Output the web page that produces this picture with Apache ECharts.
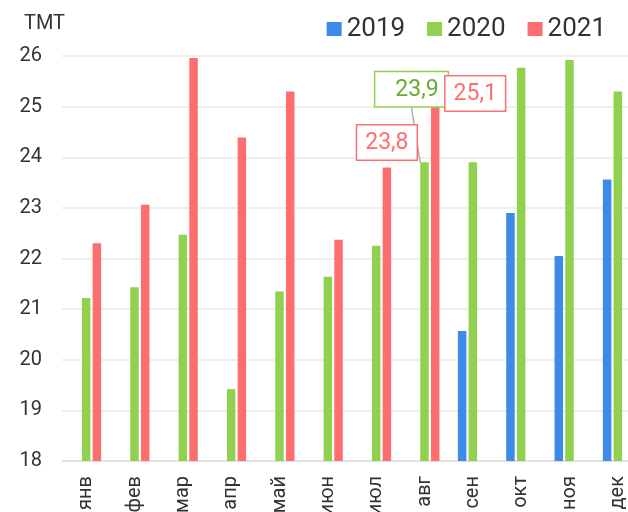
<!DOCTYPE html>
<html>
<head>
<meta charset="utf-8">
<script src="https://cdn.jsdelivr.net/npm/echarts@6/dist/echarts.min.js"></script>
<style>
  html, body { margin: 0; padding: 0; background: #fff; }
  #chart { width: 628px; height: 512px; }
</style>
</head>
<body>
<div id="chart"></div>
<script>
// Monthly values, thousand manat (ТМТ)
const months = ['янв', 'фев', 'мар', 'апр', 'май', 'июн', 'июл', 'авг', 'сен', 'окт', 'ноя', 'дек'];
const years = ['2019', '2020', '2021'];
const values2019 = [null, null, null, null, null, null, null, null, 20.57, 22.9, 22.05, 23.56];
const values2020 = [21.22, 21.43, 22.47, 19.42, 21.35, 21.64, 22.25, 23.9, 23.9, 25.77, 25.92, 25.3];
const values2021 = [22.3, 23.06, 25.96, 24.39, 25.3, 22.37, 23.8, 25.1, null, null, null, null];
const yTicks = { min: 18, max: 26, step: 1 };

const colors = ['#3d8be8', '#92d050', '#ff6e6e'];
const FONT = 'Roboto, "Noto Sans", sans-serif';

const fmt = v => Number(v).toFixed(1).replace('.', ',');

// Boxed value labels for a few highlighted bars
function boxLabel(color, textColor, extra) {
  return Object.assign({
    show: true,
    position: 'top',
    distance: 6,
    formatter: p => fmt(p.value),
    fontFamily: FONT,
    fontSize: 23,
    lineHeight: 23,
    color: textColor,
    backgroundColor: '#fff',
    borderColor: color,
    borderWidth: 1.5,
    padding: [6, 8, 5, 8]
  }, extra || {});
}

function withLabels(values, labelled) {
  return values.map((v, i) => {
    if (v == null) return null;
    if (labelled[i]) return Object.assign({ value: v }, labelled[i]);
    return v;
  });
}

const guide = { show: true, lineStyle: { color: '#b0b0b0', width: 1.5 } };

const data2020 = withLabels(values2020, {
  7: {
    label: boxLabel('#94d050', '#6aaa30', { padding: [6, 9, 5, 20] }),
    labelLine: guide
  }
});
const data2021 = withLabels(values2021, {
  6: { label: boxLabel('#ff6e6e', '#ff6e6e', { distance: 8 }) },
  7: {
    label: boxLabel('#ff6e6e', '#ff6e6e'),
    labelLine: guide
  }
});

// Shifts for the labels that sit away from their bars
const labelShift = {
  '1-7': { dx: -13, dy: -50 },
  '2-7': { dx: 40, dy: 15 }
};
const shiftLayout = p => labelShift[p.seriesIndex + '-' + p.dataIndex] || {};

const barBase = {
  type: 'bar',
  barWidth: 8.5,
  barGap: '26%',
  animation: false,
  labelLayout: shiftLayout
};

const chart = echarts.init(document.getElementById('chart'), null, { renderer: 'canvas' });
chart.setOption({
  color: colors,
  textStyle: { fontFamily: FONT },
  legend: {
    data: years,
    right: 17,
    top: 11,
    icon: 'rect',
    itemWidth: 15,
    itemHeight: 14,
    itemGap: 22,
    textStyle: { fontFamily: FONT, fontSize: 26, color: '#333' }
  },
  grid: { left: 62, right: -14, top: 56, bottom: 51, containLabel: false, outerBoundsMode: 'none' },
  xAxis: {
    type: 'category',
    data: months,
    axisTick: { show: false },
    axisLine: { lineStyle: { color: '#dddddd', width: 1.5 } },
    axisLabel: {
      rotate: 90,
      margin: 15,
      fontFamily: FONT,
      fontSize: 20,
      color: '#333'
    }
  },
  yAxis: {
    type: 'value',
    min: yTicks.min,
    max: yTicks.max,
    interval: yTicks.step,
    name: 'ТМТ',
    nameLocation: 'end',
    nameGap: 22,
    nameTextStyle: { fontFamily: FONT, fontSize: 20, color: '#333', align: 'right', padding: [0, -3, 0, 0] },
    axisLine: { show: false },
    axisTick: { show: false },
    splitLine: { lineStyle: { color: '#efefef', width: 2 } },
    axisLabel: { margin: 20, fontFamily: FONT, fontSize: 20, color: '#333' }
  },
  series: [
    Object.assign({}, barBase, { name: years[0], data: values2019 }),
    Object.assign({}, barBase, { name: years[1], data: data2020 }),
    Object.assign({}, barBase, { name: years[2], data: data2021 })
  ]
});
</script>
</body>
</html>
